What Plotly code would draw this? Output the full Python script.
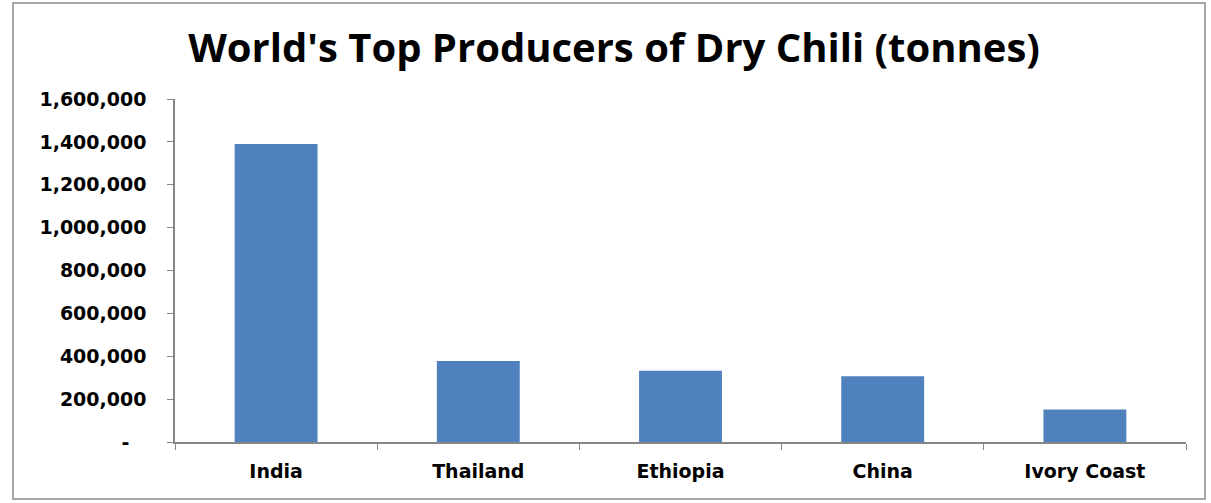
import plotly.graph_objects as go

countries = ["India", "Thailand", "Ethiopia", "China", "Ivory Coast"]
production = [1390000, 378000, 332000, 307000, 152000]
y_tick_vals = [0, 200000, 400000, 600000, 800000, 1000000, 1200000, 1400000, 1600000]
y_tick_text = ["-\u00a0\u00a0\u2009", "200,000", "400,000", "600,000", "800,000",
               "1,000,000", "1,200,000", "1,400,000", "1,600,000"]

W, H = 1211, 503
L, R, T, B = 175, 25, 99, 61
pw, ph = W - L - R, H - T - B

def px_x(x):
    return (x - L) / pw

def px_y(y):
    return (H - B - y) / ph

tick_font = dict(family="DejaVu Sans", size=19, color="black", weight="bold")

fig = go.Figure(go.Bar(
    x=countries, y=production,
    marker=dict(color="#4F81BD", line=dict(width=0)),
    width=0.41,
))

fig.update_layout(
    width=W, height=H,
    margin=dict(l=L, r=R, t=T, b=B),
    paper_bgcolor="white", plot_bgcolor="white",
    showlegend=False,
    title=dict(text="<b>World's Top Producers of Dry Chili (tonnes)</b>",
               x=px_x(614), xref="paper", xanchor="center",
               y=1 - 48 / H, yanchor="middle",
               font=dict(family="Open Sans", size=40, color="black")),
    font=dict(family="Open Sans", color="black"),
    shapes=[dict(type="rect", xref="paper", yref="paper",
                 x0=px_x(13), x1=px_x(1205), y0=px_y(499), y1=px_y(3),
                 line=dict(color="#a6a6a6", width=2), layer="below")],
)
fig.update_xaxes(
    showline=True, linecolor="#868686", linewidth=1.5,
    ticks="outside", ticklen=6, tickcolor="#868686", tickson="boundaries",
    tickfont=tick_font, ticklabelstandoff=11,
    showgrid=False,
)
fig.update_yaxes(
    range=[0, 1600000], showline=True, linecolor="#868686", linewidth=1.5,
    ticks="outside", ticklen=6, tickcolor="#868686",
    tickvals=y_tick_vals, ticktext=y_tick_text,
    tickfont=tick_font,
    ticklabelstandoff=17,
    showgrid=False, zeroline=False,
)

fig.write_html("out.html")
